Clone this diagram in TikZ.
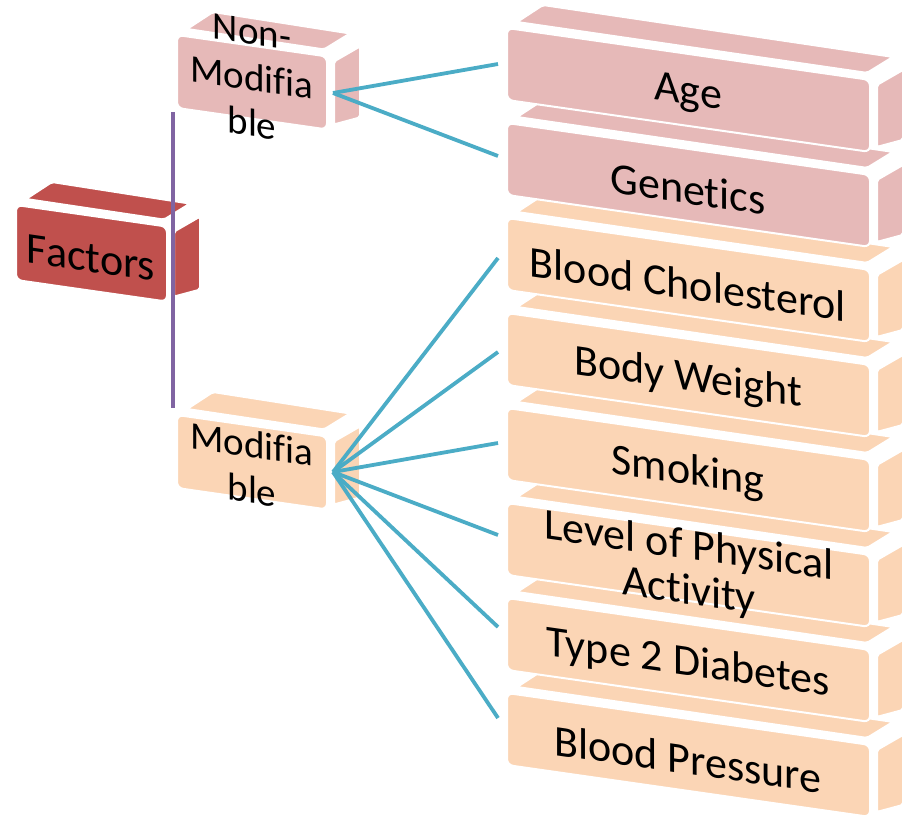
\documentclass[tikz,border=0pt]{standalone}
\usepackage{fontspec}
\setmainfont{Carlito}[Ligatures=NoCommon]
\definecolor{fred}{HTML}{C0504D}
\definecolor{fpink}{HTML}{E6B9B8}
\definecolor{fpeach}{HTML}{FBD5B5}
\definecolor{fteal}{HTML}{4BACC6}
\definecolor{fpurple}{HTML}{8064A2}
\tikzset{
  face/.style={fill=#1, draw=white, line width=2pt, line join=round},
  txt/.style={font=\fontsize{44}{45}\selectfont, align=center, yslant=-0.143, inner sep=0pt},
  smalltxt/.style={font=\fontsize{39}{46}\selectfont, align=center, yslant=-0.143, inner sep=0pt},
  tealline/.style={draw=fteal, line width=3.8pt},
  purpleline/.style={draw=fpurple, line width=3.4pt}
}
% #1 x, #2 y (top-left of front face), #3 width, #4 height, #5 colour
\newcommand\cubebox[5]{%
  \pgfmathsetmacro\bxX{#1}\pgfmathsetmacro\bxY{#2}%
  \pgfmathsetmacro\bxW{#3}\pgfmathsetmacro\bxH{#4}%
  \pgfmathsetmacro\bxS{0.143*#3}%
  \filldraw[face=#5, rounded corners=2pt] ({\bxX+10},{\bxY-6}) -- ({\bxX+\bxW-3},{\bxY+\bxS-7})
     -- ({\bxX+\bxW+23},{\bxY+\bxS-23}) -- ({\bxX+36},{\bxY-23}) -- cycle;
  \filldraw[face=#5, rounded corners=2pt] ({\bxX+\bxW+7},{\bxY+\bxS+5}) -- ({\bxX+\bxW+33},{\bxY+\bxS-10})
     -- ({\bxX+\bxW+33},{\bxY+\bxS+\bxH-12}) -- ({\bxX+\bxW+7},{\bxY+\bxS+\bxH-5}) -- cycle;
  \filldraw[face=#5, rounded corners=6pt] ({\bxX},{\bxY}) -- ({\bxX+\bxW},{\bxY+\bxS})
     -- ({\bxX+\bxW},{\bxY+\bxS+\bxH}) -- ({\bxX},{\bxY+\bxH}) -- cycle;
}
\begin{document}
\begin{tikzpicture}[x=1pt, y=-1pt]
\useasboundingbox (0,0) rectangle (917,819);
% left column
\cubebox{16}{205}{151}{75}{fred}
\cubebox{177}{35}{150}{73}{fpink}
\cubebox{177}{415}{150}{73}{fpeach}
% right column (bottom first)
\cubebox{507}{693}{363}{72}{fpeach}
\cubebox{507}{598}{363}{72}{fpeach}
\cubebox{507}{503}{363}{72}{fpeach}
\cubebox{507}{408}{363}{72}{fpeach}
\cubebox{507}{313}{363}{72}{fpeach}
\cubebox{507}{218}{363}{72}{fpeach}
\cubebox{507}{123}{363}{72}{fpink}
\cubebox{507}{28}{363}{72}{fpink}
% texts
\node[txt] (factors) at (91,258) {Factors};
\node[smalltxt] (nonmod) at (252,78) {Non-\\Modifia\\ble};
\node[smalltxt] (mod) at (252,467) {Modifia\\ble};
\node[txt] (age) at (688,94) {Age};
\node[txt] (gen) at (688,189) {Genetics};
\node[txt] (chol) at (688,284) {Blood Cholesterol};
\node[txt] (bw) at (688,379) {Body Weight};
\node[txt] (smk) at (688,473) {Smoking};
\node[txt] (lvl) at (689,570) {Level of Physical\\Activity};
\node[txt] (t2d) at (688,664) {Type 2 Diabetes};
\node[txt] (bp) at (688,759) {Blood Pressure};
% connector end points
\coordinate (nonmod-s) at (173,112);
\coordinate (mod-n) at (173,408);
\coordinate (nonmod-r) at (333,93);
\coordinate (mod-r) at (333,472);
\coordinate (age-l) at (498,64);
\coordinate (gen-l) at (498,156);
\coordinate (chol-l) at (498,258);
\coordinate (bw-l) at (498,352);
\coordinate (smk-l) at (498,443);
\coordinate (lvl-l) at (498,535);
\coordinate (t2d-l) at (498,627);
\coordinate (bp-l) at (498,718);
% connectors
\draw[purpleline] (nonmod-s) -- (mod-n);
\draw[tealline] (nonmod-r) -- (age-l);
\draw[tealline] (nonmod-r) -- (gen-l);
\foreach \e in {chol-l,bw-l,smk-l,lvl-l,t2d-l,bp-l}
  \draw[tealline] (mod-r) -- (\e);
\end{tikzpicture}
\end{document}
